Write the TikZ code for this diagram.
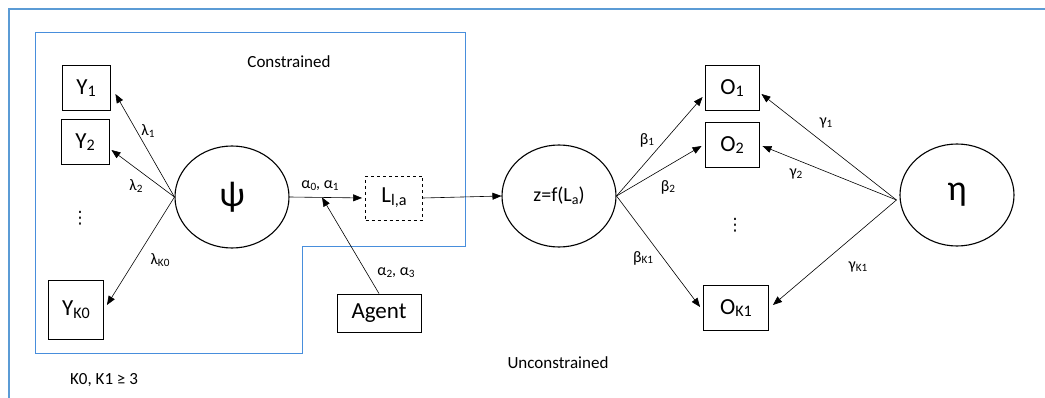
\documentclass[tikz,border=0pt]{standalone}
\usepackage{fontspec}
\usepackage{graphicx}
\setmainfont{Carlito}
\newfontfamily\symfont{DejaVu Sans}
\usetikzlibrary{arrows.meta,shapes.geometric,calc}
\definecolor{frameblue}{RGB}{91,155,213}
\definecolor{regionblue}{RGB}{72,142,220}
\newcommand{\lsub}[1]{\raisebox{-0.25ex}{\scalebox{0.7}{#1}}}
\begin{document}
\begin{tikzpicture}[x=1pt,y=-1pt,
  box/.style={draw,line width=0.9pt,minimum width=48pt,minimum height=45pt,inner sep=0pt,font=\fontsize{23}{25}\selectfont},
  latent/.style={draw,ellipse,line width=1.1pt,minimum width=114pt,minimum height=102pt,inner sep=0pt},
  link/.style={line width=0.6pt,-{Triangle[length=9pt,width=7pt]}},
  coef/.style={font=\fontsize{16}{18}\selectfont,inner sep=1pt},
  note/.style={font=\fontsize{17}{19}\selectfont,inner sep=0pt},
  vdots/.style={font=\symfont\fontsize{17}{19}\selectfont,inner sep=0pt},
  region/.style={draw=regionblue,line width=1pt}]
\useasboundingbox (0,0) rectangle (1045,398);

% outer frame (top and left edges)
\draw[frameblue,line width=1.4pt] (9,398) -- (9,9) -- (1045,9);

% constrained region
\draw[region] (35,33) -- (465,33) -- (465,247) -- (302,247) -- (302,353) -- (35,353) -- cycle;
\node[note] (con) at (289,62) {Constrained};
\node[note] (uncon) at (558,363) {Unconstrained};
\node[note] (cond) at (104,380) {K0, K1 ≥ 3};

% indicators of psi
\node[box] (Y1) at (86,88) {Y\lsub{1}};
\node[box] (Y2) at (85,142) {Y\lsub{2}};
\node[vdots] (ydots) at (80,218) {⋮};
\node[box,minimum width=55pt,minimum height=59pt] (YK) at (76,310) {Y\lsub{K0}};

\node[latent,font=\fontsize{36}{38}\selectfont] (psi) at (232,197) {ψ};

\draw[link] (psi.west) -- ([shift={(5,6)}]Y1.east);
\draw[link] (psi.west) -- ([shift={(2,8)}]Y2.east);
\draw[link] (psi.west) -- ([shift={(3,-5)}]YK.east);
\node[coef] (l1) at (148,131) {λ\lsub{1}};
\node[coef] (l2) at (136,186) {λ\lsub{2}};
\node[coef] (lk) at (160,260) {λ\lsub{K0}};

% latent path
\node[box,dashed,minimum width=57pt,minimum height=44pt] (L) at (394,198) {L\lsub{l,a}};
\node[box,minimum width=84pt,minimum height=38pt] (agent) at (379,313) {Agent};
\node[latent,font=\fontsize{20}{22}\selectfont] (z) at (559,196) {z=f(L\lsub{a})};

\draw[link,shorten >=3pt] (psi.east) -- (L.west);
\coordinate (meet) at ($(psi.east)!0.43!(L.west)$);
\draw[link] (agent.north) -- (meet);
\node[coef] (a01) at (320,186) {α\lsub{0}, α\lsub{1}};
\node[coef] (a23) at (396,273) {α\lsub{2}, α\lsub{3}};
\draw[link] (L.east) -- (z.west);

% outcomes
\node[box,minimum width=54pt] (O1) at (732,88) {O\lsub{1}};
\node[box,minimum width=54pt] (O2) at (732,145) {O\lsub{2}};
\node[vdots] (odots) at (735,225) {⋮};
\node[box,minimum width=65pt] (OK) at (736,308) {O\lsub{K1}};

\node[latent,font=\fontsize{36}{38}\selectfont] (eta) at (957,195) {η};

\draw[link] (z.east) -- ([shift={(-2,9)}]O1.west);
\draw[link] (z.east) -- ([shift={(-3,1)}]O2.west);
\draw[link] (z.east) -- ([shift={(-3,-1)}]OK.west);
\node[coef] (b1) at (647,140) {β\lsub{1}};
\node[coef] (b2) at (668,187) {β\lsub{2}};
\node[coef] (bk) at (643,258) {β\lsub{K1}};

\draw[link] ([shift={(-3,5)}]eta.west) -- ([shift={(2,6)}]O1.east);
\draw[link] ([shift={(-3,5)}]eta.west) -- ([shift={(3,1)}]O2.east);
\draw[link] ([shift={(-3,5)}]eta.west) -- ([shift={(4,-3)}]OK.east);
\node[coef] (g1) at (826,123) {γ\lsub{1}};
\node[coef] (g2) at (796,174) {γ\lsub{2}};
\node[coef] (gk) at (858,267) {γ\lsub{K1}};
\end{tikzpicture}
\end{document}
